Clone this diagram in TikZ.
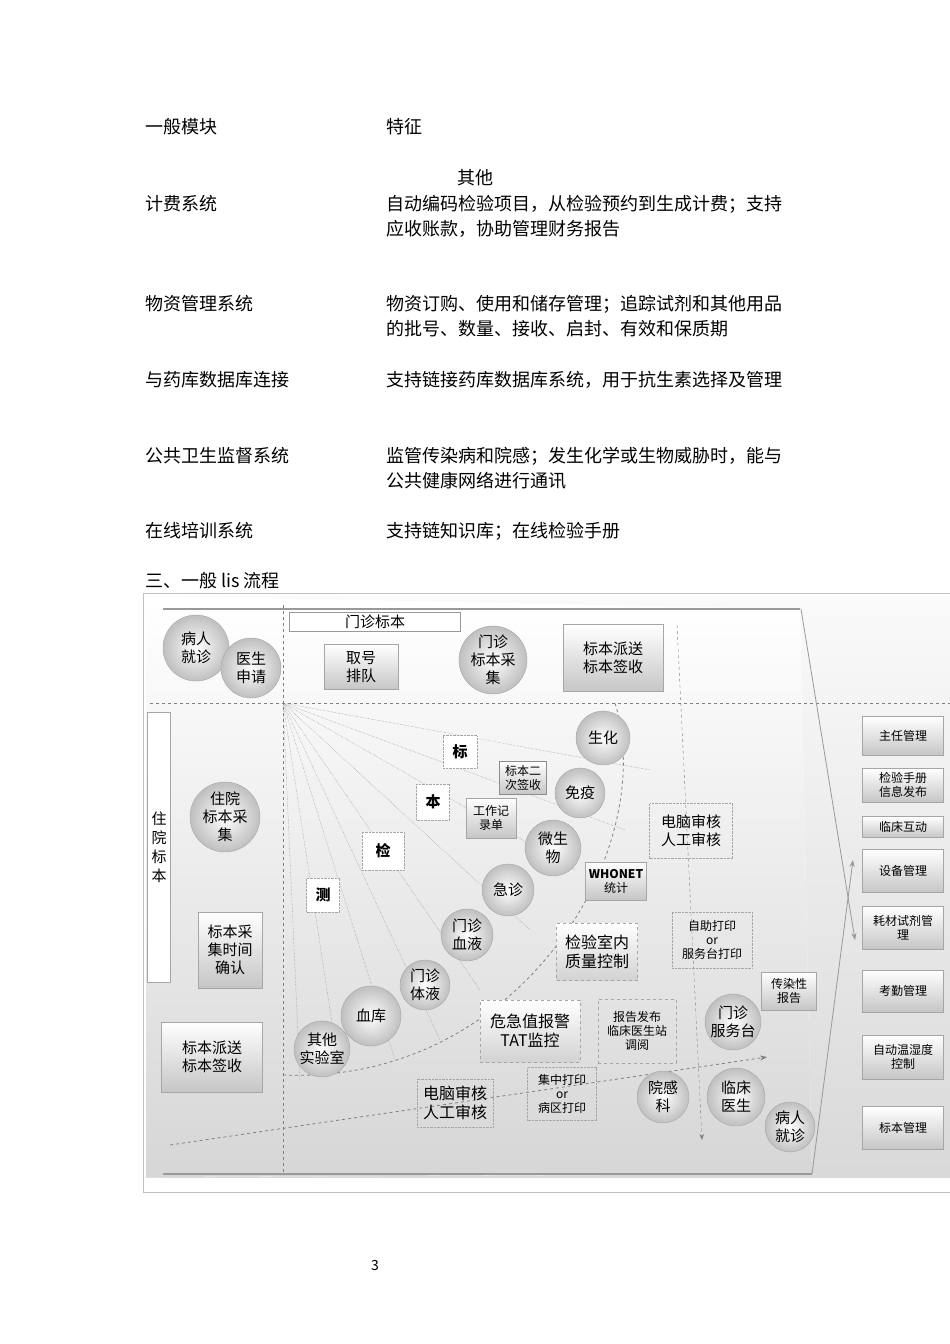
\documentclass[tikz,border=0pt]{standalone}
\usepackage{fontspec}
\setmainfont{Noto Sans CJK SC}
\usetikzlibrary{arrows.meta}
\begin{document}
\begin{tikzpicture}[x=1pt,y=-1pt,
  pg/.style={anchor=base west,font=\fontsize{18}{24}\selectfont,inner sep=0pt},
  gb/.style={draw=gray!70,top color=white,bottom color=gray!45,align=center,inner sep=1pt,font=\fontsize{15}{18}\selectfont},
  sb/.style={gb,font=\fontsize{12}{14}\selectfont},
  ball/.style={circle,draw=gray!70,inner color=white,outer color=gray!50,align=center,inner sep=0pt,font=\fontsize{15}{18}\selectfont},
  dbox/.style={draw=gray!70,densely dotted,align=center,inner sep=1pt,font=\fontsize{15}{18}\selectfont},
  dsb/.style={draw=gray!70,dashed,align=center,inner sep=1pt,font=\fontsize{15}{18}\selectfont},
  ray/.style={gray,densely dotted},
  dl/.style={gray,dashed,thick}]
\useasboundingbox (0,0) rectangle (950,1344);
\fill[white] (0,0) rectangle (950,1344);
% page text
\node[pg] (h1) at (145,133) {一般模块};
\node[pg] (h2) at (386,133) {特征};
\node[pg] (h3) at (457,184) {其他};
\node[pg] (a1) at (145,210) {计费系统};
\node[pg,align=left] (a2) at (386,210) {自动编码检验项目，从检验预约到生成计费；支持};
\node[pg] (a3) at (386,235) {应收账款，协助管理财务报告};
\node[pg] (b1) at (145,310) {物资管理系统};
\node[pg] (b2) at (386,310) {物资订购、使用和储存管理；追踪试剂和其他用品};
\node[pg] (b3) at (386,335) {的批号、数量、接收、启封、有效和保质期};
\node[pg] (c1) at (145,386) {与药库数据库连接};
\node[pg] (c2) at (386,386) {支持链接药库数据库系统，用于抗生素选择及管理};
\node[pg] (d1) at (145,462) {公共卫生监督系统};
\node[pg] (d2) at (386,462) {监管传染病和院感；发生化学或生物威胁时，能与};
\node[pg] (d3) at (386,487) {公共健康网络进行通讯};
\node[pg] (e1) at (145,537) {在线培训系统};
\node[pg] (e2) at (386,537) {支持链知识库；在线检验手册};
\node[pg] (f1) at (145,587) {三、一般 lis 流程};
\node[font=\fontsize{14}{16}\selectfont] (pn) at (375,1265) {3};
% diagram frame
\draw[gray!50] (143,593) rectangle (950,1192);
\shade[top color=gray!4,bottom color=gray!30] (146,596) rectangle (950,1177);
\fill[white] (160,596) -- (800,609) -- (812,1174) -- (160,1177) -- (146,1177) -- (146,596) -- cycle;
\shade[top color=white,bottom color=gray!32] (146,600) -- (800,609) -- (812,1174) -- (146,1177) -- cycle;
\draw[gray!80,line width=1.5pt] (163,609) -- (800,609);
\draw[gray!80,line width=1.5pt] (163,1174) -- (812,1174);
\coordinate (o) at (283,703);
\draw[dl] (150,703) -- (950,703);
\draw[gray,dashed] (283,605) -- (283,1175);
\coordinate (vt) at (677,625); \coordinate (vb) at (702,1140);
\draw[gray,dashed,-{Stealth[length=6pt]}] (vt) -- (vb);
\coordinate (ta) at (801,609); \coordinate (tb) at (855,940);
\coordinate (ba) at (812,1174); \coordinate (bb) at (853,860);
\draw[gray!80,thick,-{Stealth[length=7pt]}] (ta) -- (tb);
\draw[gray!80,thick,-{Stealth[length=7pt]}] (ba) -- (bb);
\coordinate (ls) at (170,1145); \coordinate (le) at (767,1057);
\draw[dl,-{Stealth[length=7pt]}] (ls) -- (le);
\draw[dl] (283,1075) .. controls (520,1085) and (660,850) .. (615,703);
% rays
\foreach \p in {(650,770),(625,830),(575,870),(530,930),(480,990),(440,1040),(395,1060),(340,1075),(300,1080)}
  \draw[ray] (o) -- \p;
% top row
\node[ball,minimum size=66pt] (n1) at (196,648) {病人\\就诊};
\node[ball,minimum size=60pt] (n2) at (251,668) {医生\\申请};
\node[draw=gray!80,fill=white,minimum width=171pt,minimum height=19pt,inner sep=0pt,font=\fontsize{15}{18}\selectfont] (n3) at (375,622) {门诊标本};
\node[gb,minimum width=74pt,minimum height=45pt] (n4) at (361,667) {取号\\排队};
\node[ball,minimum size=68pt] (n5) at (493,660) {门诊\\标本采\\集};
\node[gb,minimum width=100pt,minimum height=67pt] (n6) at (613,658) {标本派送\\标本签收};
% left column
\node[draw=gray!70,fill=white,minimum width=23pt,minimum height=270pt,align=center,font=\fontsize{15}{19}\selectfont] (n7) at (159,847) {住\\院\\标\\本};
\node[ball,minimum size=70pt] (n8) at (225,817) {住院\\标本采\\集};
\node[gb,minimum width=64pt,minimum height=76pt] (n9) at (230,950) {标本采\\集时间\\确认};
\node[gb,minimum width=101pt,minimum height=70pt] (n10) at (212,1057) {标本派送\\标本签收};
% labels on rays
\node[dbox,minimum width=34pt,minimum height=33pt,fill=white] (m1) at (460,752) {\textbf{标}};
\node[dbox,minimum width=33pt,minimum height=36pt,fill=white] (m2) at (433,802) {\textbf{本}};
\node[dbox,minimum width=42pt,minimum height=38pt,fill=white] (m3) at (383,851) {\textbf{检}};
\node[dbox,minimum width=33pt,minimum height=34pt,fill=white] (m4) at (323,895) {\textbf{测}};
\node[sb,draw=gray!90,minimum width=47pt,minimum height=33pt] (m5) at (523,778) {标本二\\次签收};
\node[sb,minimum width=50pt,minimum height=40pt] (m6) at (491,818) {工作记\\录单};
% lab circles
\node[ball,minimum size=54pt] (l1) at (603,738) {生化};
\node[ball,minimum size=50pt] (l2) at (580,793) {免疫};
\node[ball,minimum size=56pt] (l3) at (553,848) {微生\\物};
\node[ball,minimum size=52pt] (l4) at (508,890) {急诊};
\node[ball,minimum size=52pt] (l5) at (467,935) {门诊\\血液};
\node[ball,minimum size=50pt] (l6) at (425,985) {门诊\\体液};
\node[ball,minimum size=60pt] (l7) at (371,1016) {血库};
\node[ball,minimum size=56pt] (l8) at (322,1049) {其他\\实验室};
% middle
\node[dbox,minimum width=83pt,minimum height=55pt] (p1) at (691,831) {电脑审核\\人工审核};
\node[sb,minimum width=61pt,minimum height=38pt] (p2) at (616,881) {\textbf{WHONET}\\统计};
\node[dsb,top color=white,bottom color=gray!35,minimum width=81pt,minimum height=57pt,font=\fontsize{16}{19}\selectfont] (p3) at (597,952) {检验室内\\质量控制};
\node[dbox,font=\fontsize{12}{14}\selectfont,minimum width=80pt,minimum height=56pt] (p4) at (712,940) {自助打印\\or\\服务台打印};
\node[sb,minimum width=55pt,minimum height=38pt] (p5) at (789,991) {传染性\\报告};
\node[dsb,top color=white,bottom color=gray!35,minimum width=100pt,minimum height=62pt,font=\fontsize{16}{19}\selectfont] (p6) at (530,1031) {危急值报警\\TAT监控};
\node[dsb,font=\fontsize{12}{14}\selectfont,minimum width=78pt,minimum height=64pt] (p7) at (637,1031) {报告发布\\临床医生站\\调阅};
\node[ball,minimum size=56pt] (p8) at (733,1022) {门诊\\服务台};
\node[dbox,minimum width=76pt,minimum height=48pt,font=\fontsize{16}{19}\selectfont] (p9) at (455,1103) {电脑审核\\人工审核};
\node[dbox,font=\fontsize{12}{14}\selectfont,minimum width=69pt,minimum height=53pt] (p10) at (562,1094) {集中打印\\or\\病区打印};
\node[ball,minimum size=52pt] (p11) at (663,1097) {院感\\科};
\node[ball,minimum size=58pt] (p12) at (736,1097) {临床\\医生};
\node[ball,minimum size=50pt] (p13) at (790,1127) {病人\\就诊};
% right column
\foreach \nm/\yc/\h/\t in {r1/736/39/主任管理, r2/785/34/检验手册\\信息发布, r3/827/21/临床互动, r4/871/43/设备管理, r5/928/43/耗材试剂管\\理, r6/991/42/考勤管理, r7/1057/44/自动温湿度\\控制, r8/1128/43/标本管理}
  \node[sb,minimum width=81pt,minimum height=\h pt] (\nm) at (903,\yc) {\t};
\end{tikzpicture}
\end{document}
